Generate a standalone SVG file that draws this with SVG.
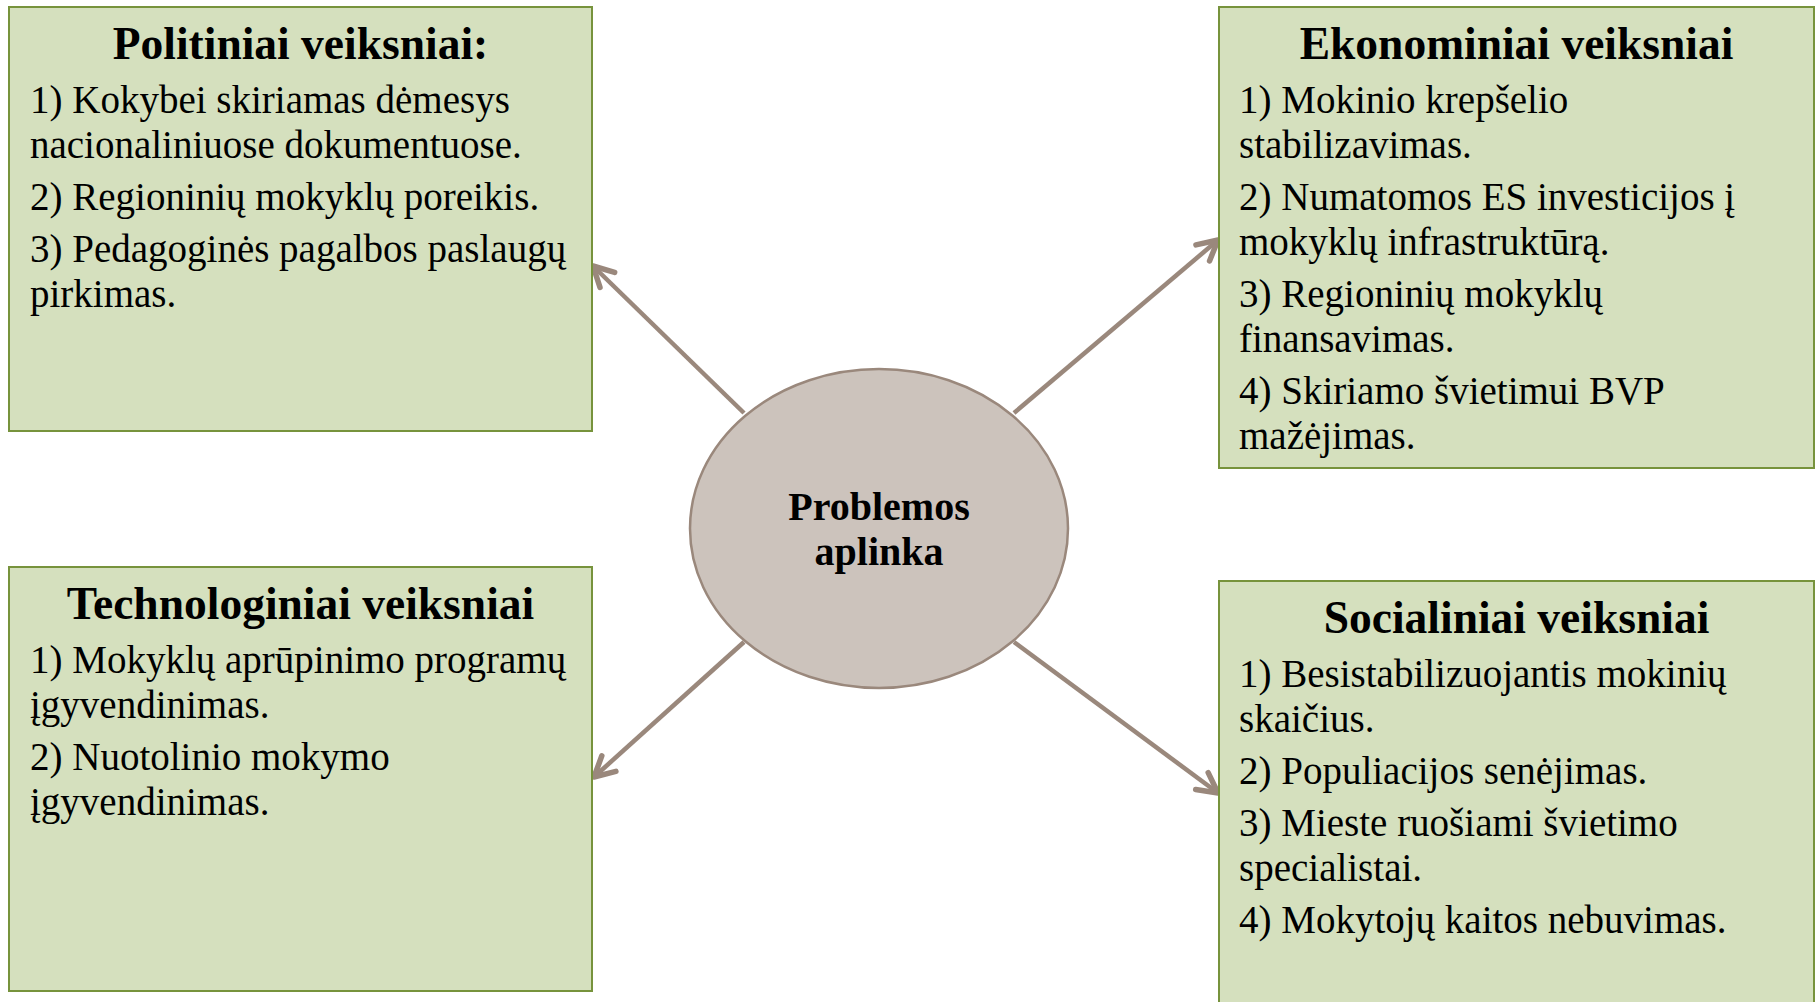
<svg xmlns="http://www.w3.org/2000/svg" width="1818" height="1002" viewBox="0 0 1818 1002">
<style>
.box{fill:#D5E0BE;stroke:#77933C;stroke-width:2}
.title{font-family:"Liberation Serif",serif;font-weight:bold;font-size:45.5px;fill:#000;text-anchor:middle}
.body{font-family:"Liberation Serif",serif;font-size:39px;fill:#000}
.center{font-family:"Liberation Serif",serif;font-weight:bold;font-size:40px;fill:#000;text-anchor:middle}
.conn{stroke:#9A887C;stroke-width:4.5;fill:none;marker-end:url(#arrow)}
</style>
<defs>
<marker id="arrow" markerUnits="userSpaceOnUse" markerWidth="30" markerHeight="30" viewBox="0 0 30 30" refX="25" refY="15" orient="auto">
<path d="M5 4.5 L25 15 L5 25.5" fill="none" stroke="#9A887C" stroke-width="5.5" stroke-linecap="round" stroke-linejoin="round"/>
</marker>
</defs>
<rect width="1818" height="1002" fill="#fff"/>
<g id="connectors">
<line class="conn" x1="744" y1="413" x2="593" y2="266"/>
<line class="conn" x1="1014" y1="413" x2="1218" y2="240"/>
<line class="conn" x1="744" y1="642" x2="594" y2="777"/>
<line class="conn" x1="1014" y1="642" x2="1218" y2="793"/>
</g>
<g id="center">
<ellipse cx="879" cy="528.5" rx="189" ry="159.5" fill="#CCC3BC" stroke="#9A887C" stroke-width="2.5"/>
<text class="center" x="879" y="520">Problemos</text>
<text class="center" x="879" y="565">aplinka</text>
</g>
<g id="politiniai">
<rect class="box" x="9" y="7" width="583" height="424"/>
<text class="title" x="300.5" y="59">Politiniai veiksniai:</text>
<text class="body" x="30" y="113">1) Kokybei skiriamas dėmesys</text>
<text class="body" x="30" y="158">nacionaliniuose dokumentuose.</text>
<text class="body" x="30" y="210">2) Regioninių mokyklų poreikis.</text>
<text class="body" x="30" y="262">3) Pedagoginės pagalbos paslaugų</text>
<text class="body" x="30" y="307">pirkimas.</text>
</g>
<g id="ekonominiai">
<rect class="box" x="1219" y="7" width="595" height="461"/>
<text class="title" x="1516.5" y="59">Ekonominiai veiksniai</text>
<text class="body" x="1239" y="113">1) Mokinio krepšelio</text>
<text class="body" x="1239" y="158">stabilizavimas.</text>
<text class="body" x="1239" y="210">2) Numatomos ES investicijos į</text>
<text class="body" x="1239" y="255">mokyklų infrastruktūrą.</text>
<text class="body" x="1239" y="307">3) Regioninių mokyklų</text>
<text class="body" x="1239" y="352">finansavimas.</text>
<text class="body" x="1239" y="404">4) Skiriamo švietimui BVP</text>
<text class="body" x="1239" y="449">mažėjimas.</text>
</g>
<g id="technologiniai">
<rect class="box" x="9" y="567" width="583" height="424"/>
<text class="title" x="300.5" y="619">Technologiniai veiksniai</text>
<text class="body" x="30" y="673">1) Mokyklų aprūpinimo programų</text>
<text class="body" x="30" y="718">įgyvendinimas.</text>
<text class="body" x="30" y="770">2) Nuotolinio mokymo</text>
<text class="body" x="30" y="815">įgyvendinimas.</text>
</g>
<g id="socialiniai">
<rect class="box" x="1219" y="581" width="595" height="440"/>
<text class="title" x="1516.5" y="633">Socialiniai veiksniai</text>
<text class="body" x="1239" y="687">1) Besistabilizuojantis mokinių</text>
<text class="body" x="1239" y="732">skaičius.</text>
<text class="body" x="1239" y="784">2) Populiacijos senėjimas.</text>
<text class="body" x="1239" y="836">3) Mieste ruošiami švietimo</text>
<text class="body" x="1239" y="881">specialistai.</text>
<text class="body" x="1239" y="933">4) Mokytojų kaitos nebuvimas.</text>
</g>
</svg>
